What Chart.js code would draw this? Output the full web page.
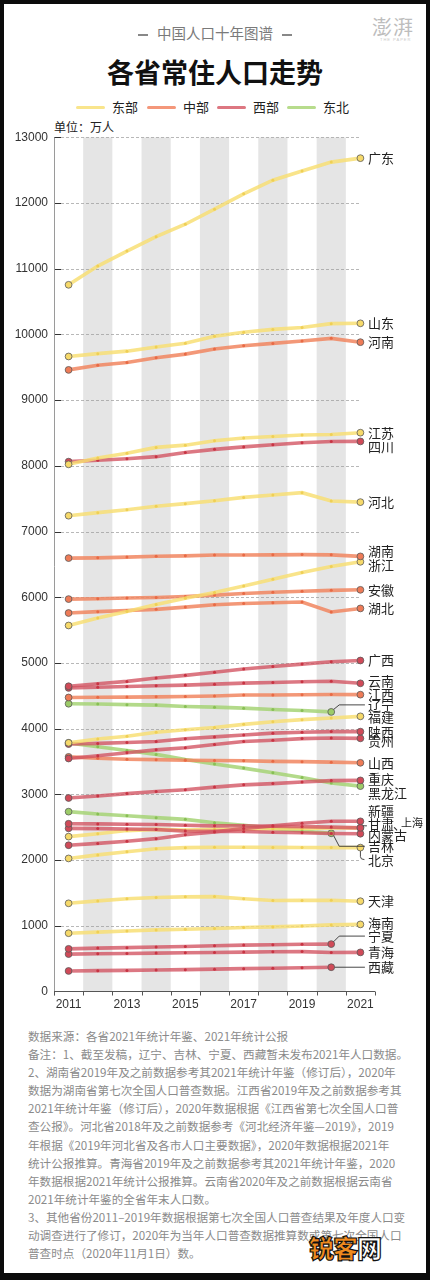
<!DOCTYPE html>
<html>
<head>
<meta charset="utf-8">
<script src="https://cdn.jsdelivr.net/npm/chart.js@4.4.1/dist/chart.umd.min.js"></script>
<style>
  html, body { margin:0; padding:0; }
  body { width:430px; height:1280px; background:#0b0b0b; position:relative; overflow:hidden;
         font-family:"Noto Sans CJK SC","Noto Sans",sans-serif; }
  .card { position:absolute; left:4px; top:4px; width:422px; height:1269px; background:#fff; }
  .abs { position:absolute; white-space:nowrap; }
  #chart { position:absolute; left:0; top:0; }
  .sub { left:0; width:430px; top:23px; text-align:center; font-size:14.5px; color:#7a7a7a; line-height:20px; }
  .sub .d { display:inline-block; width:10px; height:1.6px; background:#888; vertical-align:middle; margin:0 9px; }
  .title { left:0; width:430px; top:54px; text-align:center; font-size:27px; font-weight:700; color:#111; line-height:36px; }
  .lg-line { height:3.6px; width:29px; top:105.5px; border-radius:2px; }
  .lg-text { top:98px; font-size:13px; line-height:18px; color:#222; }
  .unit { left:54px; top:118px; font-size:12px; line-height:18px; color:#222; }
  .logo { left:372px; top:14px; font-size:20px; color:#bdbdbd; letter-spacing:1px; line-height:26px; font-weight:400; }
  .logo2 { left:380px; top:37px; font-size:4px; color:#c9c9c9; letter-spacing:1px; line-height:5px; font-family:"Liberation Sans",sans-serif; }
  .notes { left:28px; top:1027px; font-size:11.6px; line-height:18.1px; color:#8a8a8a; }
  .wm { left:309px; top:1231px; font-size:25px; font-weight:900; line-height:32px; letter-spacing:-1px; }
  .wm .o { color:#f08a1e; -webkit-text-stroke:1.2px #111; }
  .wm .w { color:#fff; -webkit-text-stroke:1.2px #111; }
</style>
</head>
<body>
<div class="card"></div>
<div class="abs sub"><span class="d"></span>中国人口十年图谱<span class="d"></span></div>
<div class="abs logo">澎湃</div>
<div class="abs logo2">THE PAPER</div>
<div class="abs title">各省常住人口走势</div>
<div id="legend"></div>
<div class="abs unit">单位：万人</div>
<canvas id="chart" width="430" height="1015"></canvas>
<div class="abs notes">
数据来源：各省2021年统计年鉴、2021年统计公报<br>
备注：1、截至发稿，辽宁、吉林、宁夏、西藏暂未发布2021年人口数据。<br>
2、湖南省2019年及之前数据参考其2021年统计年鉴（修订后），2020年<br>
数据为湖南省第七次全国人口普查数据。江西省2019年及之前数据参考其<br>
2021年统计年鉴（修订后），2020年数据根据《江西省第七次全国人口普<br>
查公报》。河北省2018年及之前数据参考《河北经济年鉴—2019》，2019<br>
年根据《2019年河北省及各市人口主要数据》，2020年数据根据2021年<br>
统计公报推算。青海省2019年及之前数据参考其2021年统计年鉴，2020<br>
年数据根据2021年统计公报推算。云南省2020年及之前数据根据云南省<br>
2021年统计年鉴的全省年末人口数。<br>
3、其他省份2011–2019年数据根据第七次全国人口普查结果及年度人口变<br>
动调查进行了修订，2020年为当年人口普查数据推算数或第七次全国人口<br>
普查时点（2020年11月1日）数。
</div>
<div class="abs wm"><span class="o">锐客</span><span class="w">网</span></div>
<script>
// ---------- data ----------
const years = [2011, 2012, 2013, 2014, 2015, 2016, 2017, 2018, 2019, 2020, 2021];
const xTickLabels = [2011, 2013, 2015, 2017, 2019, 2021];
const bandYears = [2012, 2014, 2016, 2018, 2020];
const regionNames = ['东部', '中部', '西部', '东北'];

const guangdong    = [10756, 11041, 11270, 11489, 11678, 11908, 12141, 12348, 12489, 12624, 12684];
const shandong     = [9665, 9708, 9746, 9808, 9866, 9973, 10033, 10077, 10106, 10165, 10170];
const henan        = [9461, 9532, 9573, 9645, 9701, 9778, 9829, 9864, 9901, 9941, 9883];
const jiangsu      = [8023, 8120, 8192, 8281, 8315, 8381, 8423, 8446, 8469, 8477, 8505];
const sichuan      = [8064, 8085, 8109, 8140, 8204, 8251, 8289, 8321, 8351, 8371, 8372];
const hebei        = [7241, 7288, 7333, 7384, 7425, 7470, 7520, 7556, 7592, 7464, 7448];
const hunan        = [6596, 6600, 6611, 6624, 6630, 6642, 6644, 6645, 6649, 6645, 6622];
const zhejiang     = [5570, 5685, 5784, 5890, 5985, 6072, 6170, 6273, 6375, 6468, 6540];
const anhui        = [5972, 5978, 5988, 5997, 6011, 6033, 6057, 6076, 6092, 6105, 6113];
const hubei        = [5760, 5781, 5798, 5816, 5850, 5885, 5904, 5917, 5927, 5775, 5830];
const guangxi      = [4645, 4682, 4719, 4770, 4811, 4857, 4907, 4947, 4982, 5019, 5037];
const yunnan       = [4620, 4630, 4641, 4653, 4663, 4677, 4693, 4703, 4714, 4722, 4690];
const jiangxi      = [4474, 4478, 4480, 4484, 4488, 4496, 4511, 4513, 4516, 4519, 4517];
const liaoning     = [4379, 4375, 4365, 4358, 4338, 4327, 4312, 4291, 4277, 4255, null];
const fujian       = [3784, 3841, 3885, 3945, 3984, 4016, 4065, 4104, 4137, 4161, 4187];
const shaanxi      = [3765, 3775, 3788, 3805, 3846, 3874, 3904, 3931, 3944, 3955, 3954];
const guizhou      = [3545, 3587, 3632, 3677, 3708, 3758, 3803, 3822, 3848, 3858, 3852];
const shanxi       = [3570, 3548, 3535, 3528, 3519, 3514, 3510, 3502, 3497, 3490, 3480];
const chongqing    = [2944, 2975, 3011, 3043, 3070, 3110, 3144, 3163, 3188, 3209, 3212];
const heilongjiang = [3782, 3724, 3666, 3608, 3529, 3463, 3399, 3327, 3255, 3171, 3125];
const xinjiang     = [2225, 2253, 2285, 2325, 2385, 2428, 2480, 2520, 2559, 2590, 2589];
const gansu        = [2552, 2550, 2545, 2540, 2530, 2520, 2522, 2515, 2509, 2501, 2490];
const neimenggu    = [2482, 2478, 2472, 2465, 2440, 2436, 2433, 2422, 2415, 2403, 2400];
const shanghai     = [2356, 2399, 2448, 2467, 2458, 2467, 2466, 2475, 2481, 2488, 2489];
const jilin        = [2736, 2700, 2675, 2645, 2619, 2568, 2528, 2482, 2441, 2407, null];
const beijing      = [2024, 2078, 2125, 2171, 2188, 2195, 2194, 2192, 2190, 2189, 2189];
const tianjin      = [1341, 1378, 1410, 1429, 1439, 1443, 1410, 1383, 1385, 1387, 1373];
const hainan       = [886, 903, 920, 936, 945, 957, 972, 982, 995, 1012, 1020];
const ningxia      = [648, 659, 666, 675, 684, 695, 705, 710, 717, 720, null];
const qinghai      = [568, 573, 577, 583, 588, 593, 598, 603, 606, 593, 594];
const xizang       = [311, 316, 320, 326, 331, 339, 346, 353, 361, 368, null];

const provinceNames = ['广东','山东','河南','江苏','四川','河北','湖南','浙江','安徽','湖北','广西','云南','江西','辽宁','福建','陕西','贵州','山西','重庆','黑龙江','新疆','甘肃','内蒙古','上海','吉林','北京','天津','海南','宁夏','青海','西藏'];
const provinceRegion = [0,0,1,0,2,0,1,0,1,1,2,2,1,3,0,2,2,1,2,3,2,2,2,0,3,0,0,0,2,2,2];
const provinceValues = [guangdong,shandong,henan,jiangsu,sichuan,hebei,hunan,zhejiang,anhui,hubei,guangxi,yunnan,jiangxi,liaoning,fujian,shaanxi,guizhou,shanxi,chongqing,heilongjiang,xinjiang,gansu,neimenggu,shanghai,jilin,beijing,tianjin,hainan,ningxia,qinghai,xizang];
// combined label: 甘肃 label also names 上海 (drawn smaller)
const labelSuffix = {'甘肃':'上海'};
const hiddenLabels = ['上海'];

// ---------- styles ----------
const lineColors = ['rgba(248,222,112,0.82)','rgba(241,134,96,0.85)','rgba(210,82,96,0.78)','rgba(166,211,118,0.85)'];
const legendColors = ['#f9e58c','#f4977a','#dd7781','#b7dc8c'];
const dotColors  = ['#efcf55','#e86a45','#c83443','#88bf55'];
const endColors  = ['#f6d96a','#ee7b57','#d04a58','#9ccb68'];
const labelNudge = {'四川':6,'湖南':-5,'浙江':3,'云南':-2,'江西':-1,'辽宁':-7,'福建':1,'贵州':3,'重庆':-1,'黑龙江':7,'新疆':-10,'甘肃':-4,'内蒙古':1,'吉林':13,'北京':12,'海南':-1,'宁夏':-8};
const leaderType = {'辽宁':'elbow','吉林':'elbow','宁夏':'elbow','西藏':'elbow','北京':'hook','甘肃':'tick'};

// legend (HTML)
const legendX = [[76,112],[147,183],[217,253],[287,323]];
const lgEl = document.getElementById('legend');
regionNames.forEach((n,i)=>{
  const l = document.createElement('div'); l.className='abs lg-line';
  l.style.left = legendX[i][0]+'px'; l.style.background = legendColors[i]; lgEl.appendChild(l);
  const t = document.createElement('div'); t.className='abs lg-text';
  t.style.left = legendX[i][1]+'px'; t.textContent = n; lgEl.appendChild(t);
});

const lastIndex = arr => { for (let i = arr.length-1; i>=0; i--) if (arr[i]!==null) return i; return -1; };

const datasets = provinceNames.map((name, k) => {
  const r = provinceRegion[k], vals = provinceValues[k], li = lastIndex(vals);
  const isEnd = ctx => ctx.dataIndex === 0 || ctx.dataIndex === li;
  return {
    label: name,
    data: years.map((y,i)=>({x:y, y:vals[i]})),
    borderColor: lineColors[r],
    borderWidth: 3.6,
    tension: 0,
    spanGaps: false,
    pointRadius: ctx => isEnd(ctx) ? 3.4 : 1.5,
    pointBackgroundColor: ctx => isEnd(ctx) ? endColors[r] : dotColors[r],
    pointBorderColor: ctx => isEnd(ctx) ? '#5a5a5a' : dotColors[r],
    pointBorderWidth: ctx => isEnd(ctx) ? 0.8 : 0,
    _region: r, _last: li
  };
});

const TOP = 137.4, AXIS_Y = 991.4;
const LABEL_FONT = '13px "Noto Sans CJK SC", sans-serif';
const SMALL_FONT = '11px "Noto Sans CJK SC", sans-serif';

const deco = {
  id: 'deco',
  beforeDatasetsDraw(chart) {
    const {ctx, chartArea:a, scales:{x, y}} = chart;
    ctx.save();
    ctx.fillStyle = '#e5e5e5';
    bandYears.forEach(b => {
      const x0 = x.getPixelForValue(b-0.5), x1 = x.getPixelForValue(b+0.5);
      ctx.fillRect(x0, a.top, x1-x0, a.bottom-a.top);
    });
    const xEnd = x.getPixelForValue(2021);
    for (let v = 1000; v <= 13000; v += 1000) {
      const py = Math.round(y.getPixelForValue(v)) + 0.5;
      ctx.setLineDash([]); ctx.strokeStyle = '#333'; ctx.lineWidth = 1;
      ctx.beginPath(); ctx.moveTo(a.left, py); ctx.lineTo(a.left+7, py); ctx.stroke();
      ctx.setLineDash([3,2]); ctx.strokeStyle = '#9a9a9a'; ctx.lineWidth = 0.7;
      ctx.beginPath(); ctx.moveTo(a.left+7, py); ctx.lineTo(xEnd, py); ctx.stroke();
    }
    ctx.setLineDash([]);
    ctx.strokeStyle = '#9a9a9a'; ctx.lineWidth = 1;
    ctx.beginPath(); ctx.moveTo(a.left+0.5, a.top); ctx.lineTo(a.left+0.5, a.bottom+4); ctx.stroke();
    ctx.strokeStyle = '#555'; ctx.lineWidth = 1;
    const by = Math.round(a.bottom)+0.5;
    ctx.beginPath(); ctx.moveTo(a.left, by); ctx.lineTo(a.right, by); ctx.stroke();
    for (let t = 2010.5; t <= 2021.5; t += 1) {
      const px = Math.round(x.getPixelForValue(t)) + 0.5;
      ctx.beginPath(); ctx.moveTo(px, by); ctx.lineTo(px, by+4); ctx.stroke();
    }
    ctx.restore();
  },
  afterDatasetsDraw(chart) {
    const {ctx, scales:{x, y}} = chart;
    ctx.save();
    ctx.fillStyle = '#222';
    ctx.textBaseline = 'middle';
    const lx = x.getPixelForValue(2021) + 7.5;
    chart.data.datasets.forEach(ds => {
      const name = ds.label;
      if (hiddenLabels.includes(name)) return;
      const li = ds._last;
      const px = x.getPixelForValue(years[li]);
      const py = y.getPixelForValue(ds.data[li].y);
      const ly = py + (labelNudge[name] || 0);
      const lt = leaderType[name];
      if (lt) {
        ctx.strokeStyle = '#333'; ctx.lineWidth = 0.9;
        ctx.beginPath();
        if (lt === 'elbow') {
          if (Math.abs(ly-py) < 2) { ctx.moveTo(px+3.5, py); ctx.lineTo(lx-3, py); }
          else { const s = ly > py ? 1 : -1; ctx.moveTo(px+2.5, py+s*2.5); ctx.lineTo(px+8, ly); ctx.lineTo(lx-3, ly); }
        } else if (lt === 'hook') {
          ctx.moveTo(px, py+3.5); ctx.lineTo(px, ly-3); ctx.quadraticCurveTo(px, ly, px+4, ly);
        } else if (lt === 'tick') {
          ctx.moveTo(px+2.5, py-2); ctx.lineTo(lx-1, ly+2);
        }
        ctx.stroke();
      }
      ctx.font = LABEL_FONT;
      ctx.fillText(name, lx, ly);
      if (labelSuffix[name]) {
        const w = ctx.measureText(name).width;
        ctx.fillText('、', lx + w - 1, ly);
        ctx.font = SMALL_FONT;
        ctx.fillText(labelSuffix[name], lx + w + 7, ly - 1.5);
      }
    });
    ctx.restore();
  }
};

new Chart(document.getElementById('chart'), {
  type: 'line',
  data: { datasets },
  plugins: [deco],
  options: {
    responsive: false,
    animation: false,
    events: [],
    layout: { padding: { top: TOP, right: 55, left: 0, bottom: 0 } },
    plugins: { legend: { display: false }, tooltip: { enabled: false } },
    scales: {
      x: {
        type: 'linear', min: 2010.5, max: 2021.5,
        afterBuildTicks: s => { s.ticks = xTickLabels.map(v => ({ value: v })); },
        afterFit: s => { s.height = 1015 - AXIS_Y; },
        grid: { display: false, drawTicks: false },
        border: { display: false },
        ticks: { padding: 6, autoSkip: false, maxRotation: 0, color: '#333',
                 font: { family: '"Liberation Sans", sans-serif', size: 12 },
                 callback: v => String(v) }
      },
      y: {
        min: 0, max: 13000,
        afterFit: s => { s.width = 54; },
        grid: { display: false, drawTicks: false },
        border: { display: false },
        ticks: { stepSize: 1000, padding: 6, color: '#333',
                 font: { family: '"Liberation Sans", sans-serif', size: 12 },
                 callback: v => String(v) }
      }
    }
  }
});
</script>
</body>
</html>
